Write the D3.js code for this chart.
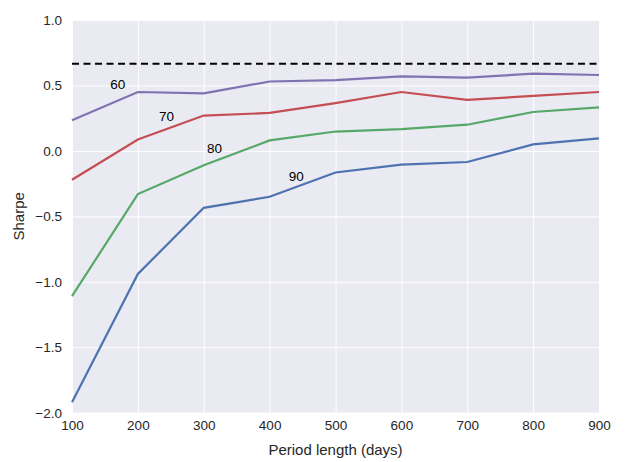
<!DOCTYPE html>
<html><head><meta charset="utf-8">
<script src="https://cdn.jsdelivr.net/npm/d3@7"></script>
<style>
html,body{margin:0;padding:0;background:#fff;}
svg{display:block;font-family:"Liberation Sans",Arial,sans-serif;}
</style></head>
<body><svg id="c" width="629" height="462"></svg>
<script>
const periods = [100,200,300,400,500,600,700,800,900];
const s60 = [0.235,0.45,0.44,0.53,0.54,0.57,0.56,0.59,0.58];
const s70 = [-0.22,0.087,0.27,0.29,0.365,0.45,0.39,0.42,0.45];
const s80 = [-1.11,-0.33,-0.11,0.08,0.148,0.166,0.20,0.297,0.333];
const s90 = [-1.92,-0.94,-0.435,-0.35,-0.165,-0.105,-0.085,0.05,0.095];
const seriesNames = ["90","80","70","60"];
const seriesColors = ["#4C72B0","#55A868","#C44E52","#8172B2"];
const benchmark = 0.665;
const labelPos = [[429,-0.227],[305,-0.013],[232,0.23],[158,0.476]];
const xTicks = [100,200,300,400,500,600,700,800,900];
const yTicks = [-2.0,-1.5,-1.0,-0.5,0.0,0.5,1.0];

const series = [s90,s80,s70,s60];
const svg = d3.select("#c");
const L=72, R=599, T=20, B=412.7;
const x = d3.scaleLinear().domain([100,900]).range([L,R]);
const y = d3.scaleLinear().domain([-2,1]).range([B,T]);

svg.append("rect").attr("x",L).attr("y",T).attr("width",R-L).attr("height",B-T).attr("fill","#EAEAF2");

const gx = svg.append("g").attr("transform",`translate(0,${B})`)
  .call(d3.axisBottom(x).tickValues(xTicks).tickFormat(d3.format("d")).tickSize(-(B-T)).tickPadding(8));
const gy = svg.append("g").attr("transform",`translate(${L},0)`)
  .call(d3.axisLeft(y).tickValues(yTicks).tickFormat(d3.format(".1f")).tickSize(-(R-L)).tickPadding(10));
[gx,gy].forEach(g=>{
  g.select(".domain").remove();
  g.selectAll(".tick line").attr("stroke","#fff").attr("stroke-width",1);
  g.selectAll(".tick text").attr("fill","#262626").style("font-size","13.5px");
});

svg.append("line").attr("x1",x(100)).attr("x2",x(900)).attr("y1",y(benchmark)).attr("y2",y(benchmark))
  .attr("stroke","#000").attr("stroke-width",2).attr("stroke-dasharray","7,4.5");

const line = d3.line().x((d,i)=>x(periods[i])).y(d=>y(d));
series.forEach((s,k)=>{
  svg.append("path").datum(s).attr("d",line).attr("fill","none")
    .attr("stroke",seriesColors[k]).attr("stroke-width",2.2);
});
seriesNames.forEach((n,k)=>{
  svg.append("text").attr("x",x(labelPos[k][0])).attr("y",y(labelPos[k][1]))
    .attr("fill","#000").style("font-size","13.5px").text(n);
});

svg.append("text").attr("x",(L+R)/2).attr("y",455).attr("text-anchor","middle")
  .attr("fill","#262626").style("font-size","15px").text("Period length (days)");
svg.append("text").attr("transform",`translate(24,${(T+B)/2}) rotate(-90)`).attr("text-anchor","middle")
  .attr("fill","#262626").style("font-size","15px").text("Sharpe");
</script></body></html>
